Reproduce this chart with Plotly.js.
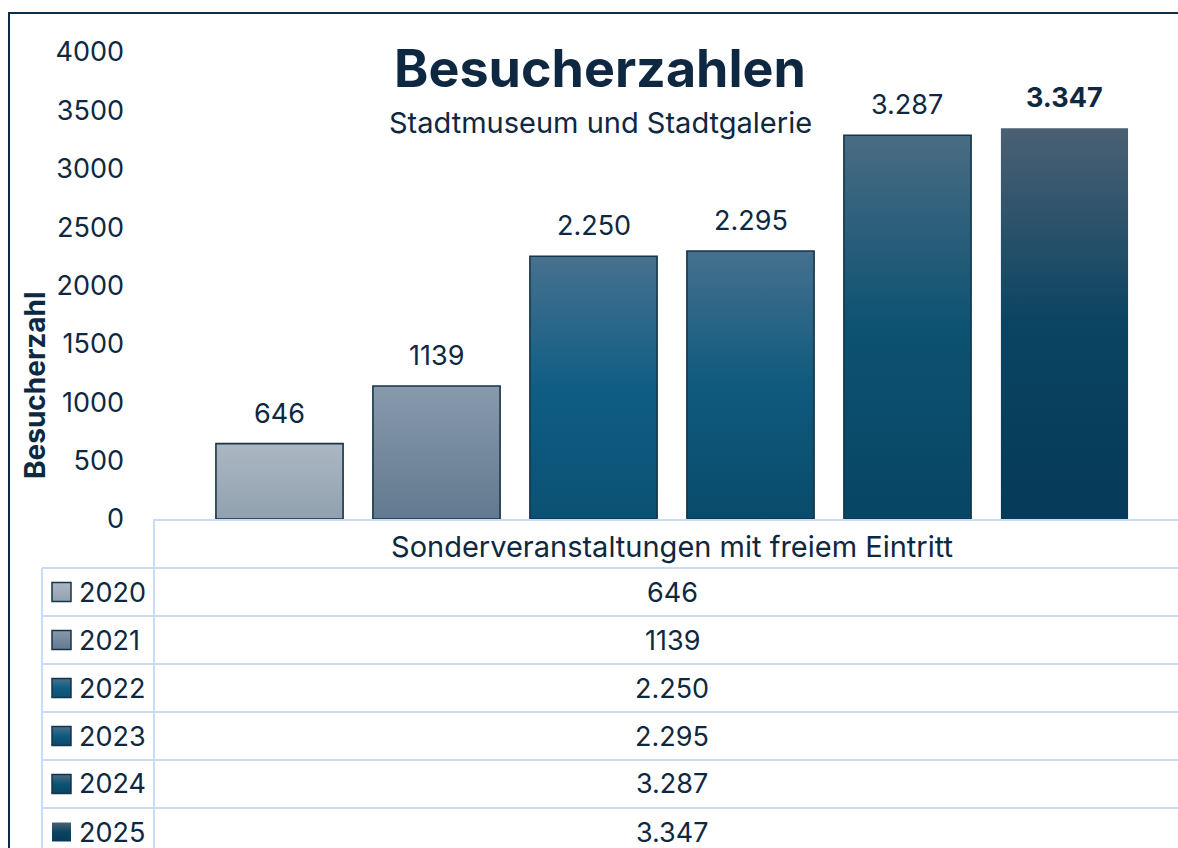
<!DOCTYPE html>
<html>
<head>
<meta charset="utf-8">
<script src="https://cdn.plot.ly/plotly-3.0.1.min.js"></script>
<style>
  html, body { margin: 0; padding: 0; background: #fff; overflow: hidden; }
  #chart { width: 1178px; height: 848px; }
  #frame { position: absolute; left: 8px; top: 12px; width: 1200px; height: 900px;
           border-left: 2px solid #0f2d44; border-top: 2px solid #0f2d44; pointer-events: none; }
</style>
</head>
<body>
<div id="chart"></div>
<div id="frame"></div>
<script>
// ---------- data ----------
const category = ['Sonderveranstaltungen mit freiem Eintritt'];
const years = ['2020', '2021', '2022', '2023', '2024', '2025'];
const visitors = [646, 1139, 2250, 2295, 3287, 3347];
const valueLabels = ['646', '1139', '2.250', '2.295', '3.287', '3.347'];
const yTickValues = [0, 500, 1000, 1500, 2000, 2500, 3000, 3500, 4000];
const yTickLabels = ['0', '500', '1000', '1500', '2000', '2500', '3000', '3500', '4000'];
const chartTitle = 'Besucherzahlen';
const chartSubtitle = 'Stadtmuseum und Stadtgalerie';
const yTitle = 'Besucherzahl';

// ---------- styles ----------
const barColors = ['#a0adba', '#748a9e', '#1c5f82', '#1a5878', '#1a5070', '#1e4862'];
const gradStops = [
  [['0', '#abb7c3'], ['1', '#92a1af']],
  [['0', '#889aac'], ['1', '#62798f']],
  [['0', '#47718f'], ['0.5', '#0f5d84'], ['1', '#0b5174']],
  [['0', '#46708e'], ['0.5', '#0f5a7e'], ['1', '#094b6b']],
  [['0', '#496c83'], ['0.5', '#0d5272'], ['1', '#084564']],
  [['0', '#4b6073'], ['0.5', '#0a4462'], ['1', '#053a58']]
];
const outlineWidths = [1.6, 1.6, 1.6, 1.6, 1.6, 0];
const textColor = '#0e2841';
const gridBlue = '#c9dcf2';
const numFont = 'Inter, "Liberation Sans", sans-serif';

// ---------- geometry helpers (layout only) ----------
const W = 1178, H = 848, L = 155, T = 52, B = 519;
const fullCatPx = 1034;
const px2x = px => (px - L) / (W - L);
const px2y = py => (B - py) / (B - T);
const bargap = 0.089, bargroupgap = 0.19;
const slot = (1 - bargap) / years.length;
const traceCenter = i => -(1 - bargap) / 2 + (i + 0.5) * slot;

const rowTop0 = 568, rowH = 48;

const traces = years.map((yr, i) => ({
  type: 'bar',
  name: yr,
  x: category,
  y: [visitors[i]],
  marker: { color: barColors[i], line: { color: '#16354a', width: outlineWidths[i] } },
  hoverinfo: 'name+y',
  showlegend: false
}));

const maxVal = Math.max(...visitors);
const annotations = [];
// data labels above bars
visitors.forEach((v, i) => {
  annotations.push({
    x: traceCenter(i), xref: 'x', y: v, yref: 'y',
    text: v === maxVal ? '<b>' + valueLabels[i] + '</b>' : valueLabels[i],
    showarrow: false, yanchor: 'bottom', yshift: 12,
    font: { family: numFont, size: 27, color: textColor }
  });
});
// subtitle
annotations.push({
  x: (600 - L) / (W - L), xref: 'paper', y: px2y(122), yref: 'paper',
  text: chartSubtitle, showarrow: false, xanchor: 'center', yanchor: 'middle',
  font: { family: 'Inter, sans-serif', size: 29, color: textColor }
});
// y axis title
annotations.push({
  x: px2x(35), xref: 'paper', y: px2y(385), yref: 'paper',
  text: '<b>' + yTitle + '</b>', textangle: -90, showarrow: false,
  xanchor: 'center', yanchor: 'middle',
  font: { family: 'Inter, sans-serif', size: 28, color: textColor }
});
// data table rows
years.forEach((yr, i) => {
  const cy = rowTop0 + rowH * i + rowH / 2;
  annotations.push({
    x: px2x(77), xref: 'paper', y: px2y(cy), yref: 'paper',
    text: yr, showarrow: false, xanchor: 'left', yanchor: 'middle',
    font: { family: numFont, size: 27, color: textColor }
  });
  annotations.push({
    x: 0, xref: 'x', y: px2y(cy), yref: 'paper',
    text: valueLabels[i], showarrow: false, xanchor: 'center', yanchor: 'middle',
    font: { family: numFont, size: 27, color: textColor }
  });
});

const shapes = [];
const lineStyle = { color: gridBlue, width: 2 };
// horizontal table lines
for (let k = 0; k <= years.length; k++) {
  const y = rowTop0 + rowH * k;
  shapes.push({ type: 'line', xref: 'paper', yref: 'paper', x0: px2x(42), x1: px2x(1300), y0: px2y(y), y1: px2y(y), line: lineStyle, layer: 'below' });
}
// vertical table lines
shapes.push({ type: 'line', xref: 'paper', yref: 'paper', x0: px2x(154), x1: px2x(154), y0: px2y(519), y1: px2y(900), line: lineStyle, layer: 'below' });
shapes.push({ type: 'line', xref: 'paper', yref: 'paper', x0: px2x(42), x1: px2x(42), y0: px2y(rowTop0), y1: px2y(900), line: lineStyle, layer: 'below' });
// legend keys
const keyStart = shapes.length;
years.forEach((yr, i) => {
  const cy = rowTop0 + rowH * i + rowH / 2;
  shapes.push({
    type: 'rect', xref: 'paper', yref: 'paper',
    x0: px2x(52), x1: px2x(71), y0: px2y(cy - 9.5), y1: px2y(cy + 9.5),
    fillcolor: barColors[i], line: { color: '#16354a', width: outlineWidths[i] ? 1.5 : 0 }, layer: 'above'
  });
});

const layout = {
  width: W, height: H,
  margin: { l: L, r: 0, t: T, b: H - B, pad: 0 },
  paper_bgcolor: '#ffffff', plot_bgcolor: 'rgba(0,0,0,0)',
  barmode: 'group', bargap: bargap, bargroupgap: bargroupgap,
  title: {
    text: '<b>' + chartTitle + '</b>',
    x: 600 / W, xanchor: 'center', xref: 'container',
    y: 1 - 69 / H, yanchor: 'middle', yref: 'container',
    font: { family: 'Inter, sans-serif', size: 52, color: textColor }
  },
  xaxis: {
    type: 'category',
    range: [-0.5, -0.5 + (W - L) / fullCatPx],
    showline: true, linecolor: gridBlue, linewidth: 2,
    ticks: '', showgrid: false, zeroline: false,
    tickfont: { family: 'Inter, sans-serif', size: 29, color: textColor },
    ticklabelstandoff: 1, automargin: false, fixedrange: true
  },
  yaxis: {
    range: [0, 4000], tickvals: yTickValues, ticktext: yTickLabels,
    showgrid: false, zeroline: false, showline: false, ticks: '',
    tickfont: { family: numFont, size: 27, color: textColor },
    ticklabelstandoff: 30, automargin: false, fixedrange: true
  },
  annotations: annotations,
  shapes: shapes,
  font: { family: 'Inter, sans-serif', color: textColor }
};

Plotly.newPlot('chart', traces, layout, { displayModeBar: false, staticPlot: true }).then(gd => {
  const svg = gd.querySelector('.main-svg');
  const NS = 'http://www.w3.org/2000/svg';
  let defs = svg.querySelector('defs');
  if (!defs) { defs = document.createElementNS(NS, 'defs'); svg.insertBefore(defs, svg.firstChild); }
  gradStops.forEach((stops, i) => {
    const g = document.createElementNS(NS, 'linearGradient');
    g.setAttribute('id', 'barGrad' + i);
    g.setAttribute('x1', '0'); g.setAttribute('y1', '0'); g.setAttribute('x2', '0'); g.setAttribute('y2', '1');
    stops.forEach(([off, col]) => {
      const s = document.createElementNS(NS, 'stop');
      s.setAttribute('offset', off); s.setAttribute('stop-color', col);
      g.appendChild(s);
    });
    defs.appendChild(g);
  });
  gd.querySelectorAll('.barlayer .trace').forEach((tr, i) => {
    tr.querySelectorAll('path').forEach(p => { p.style.fill = 'url(#barGrad' + i + ')'; });
  });
  years.forEach((yr, i) => {
    const p = gd.querySelector('path[data-index="' + (keyStart + i) + '"]');
    if (p) p.style.fill = 'url(#barGrad' + i + ')';
  });
});
</script>
</body>
</html>
